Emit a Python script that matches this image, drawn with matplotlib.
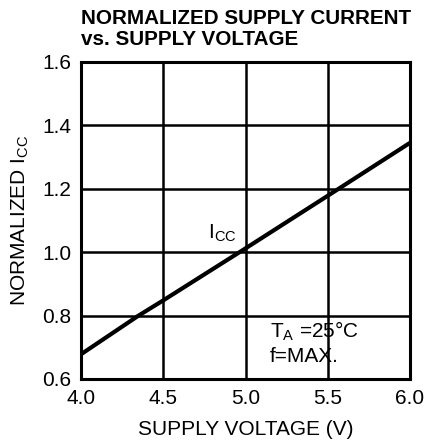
import matplotlib.pyplot as plt

plt.rcParams['font.family'] = ['Liberation Sans', 'DejaVu Sans']

voltage = [4.0, 4.35, 4.5, 5.0, 5.5, 6.0]
icc_norm = [0.678, 0.80, 0.848, 1.012, 1.178, 1.345]

xticks = [4.0, 4.5, 5.0, 5.5, 6.0]
yticks = [0.6, 0.8, 1.0, 1.2, 1.4, 1.6]

fig = plt.figure(figsize=(4.29, 4.43), dpi=100)
ax = fig.add_axes([81/429, 1 - 379/443, (410-81)/429, (379-62)/443])

ax.plot(voltage, icc_norm, color='black', linewidth=3, solid_capstyle='butt')

ax.set_xlim(4.0, 6.0)
ax.set_ylim(0.6, 1.6)
ax.set_xticks(xticks)
ax.set_yticks(yticks)
ax.set_xticklabels([f"{v:.1f}" for v in xticks], fontsize=15)
ax.set_yticklabels([f"{v:.1f}" for v in yticks], fontsize=15)
ax.tick_params(length=0)
ax.tick_params(axis='x', pad=7)
ax.tick_params(axis='y', pad=7)
ax.grid(True, color='black', linewidth=1.8)
for s in ax.spines.values():
    s.set_linewidth(2.2)

ax.set_xlabel("SUPPLY VOLTAGE (V)", fontsize=15, labelpad=9)
ax.set_ylabel("NORMALIZED I$_{\\mathregular{CC}}$", fontsize=15, labelpad=8)

ax.text(4.77, 1.045, "I$_{\\mathregular{CC}}$", fontsize=15, va='baseline')
ax.text(5.15, 0.7325, "T$_{\\mathregular{A}}$ =25°C", fontsize=15, va='baseline')
ax.text(5.15, 0.6536, "f=MAX.", fontsize=15, va='baseline')

fig.text(81/429, 1 - 9/443, "NORMALIZED SUPPLY CURRENT\nvs. SUPPLY VOLTAGE",
         fontsize=14.9, fontweight='bold', va='top', ha='left', linespacing=1.12)

fig.savefig('out.png', dpi=100)
